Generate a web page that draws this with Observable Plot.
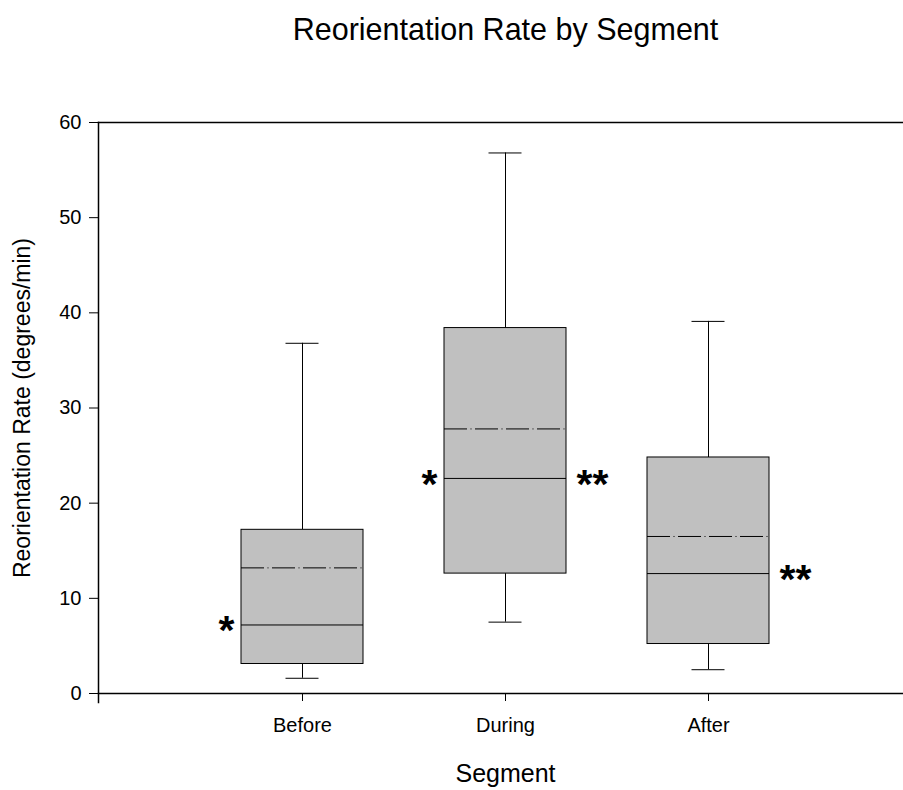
<!DOCTYPE html>
<html>
<head>
<meta charset="utf-8">
<script src="https://cdn.jsdelivr.net/npm/d3@7"></script>
<script src="https://cdn.jsdelivr.net/npm/@observablehq/plot@0.6"></script>
<style>
  html, body { margin: 0; padding: 0; background: #fff; }
  svg { display: block; }
</style>
</head>
<body>
<div id="chart"></div>
<script>
const segments    = ["Before", "During", "After"];
const whiskerLow  = [1.6, 7.5, 2.5];
const q1          = [3.1, 12.6, 5.2];
const median      = [7.2, 22.6, 12.6];
const mean        = [13.2, 27.8, 16.5];
const q3          = [17.2, 38.4, 24.8];
const whiskerHigh = [36.8, 56.8, 39.1];
const leftMarks   = ["*", "*", ""];
const rightMarks  = ["", "**", "**"];
const yTicks      = [0, 10, 20, 30, 40, 50, 60];

const titleText = "Reorientation Rate by Segment";
const xLabel = "Segment";
const yLabel = "Reorientation Rate (degrees/min)";

const rows = segments.map((s, i) => ({
  segment: s, lo: whiskerLow[i], q1: q1[i], median: median[i],
  mean: mean[i], q3: q3[i], hi: whiskerHigh[i],
  left: leftMarks[i], right: rightMarks[i]
}));

const font = "'Liberation Sans', Arial, sans-serif";

const chart = Plot.plot({
  width: 903,
  height: 790,
  marginTop: 122,
  marginBottom: 97,
  marginLeft: 98,
  marginRight: 0,
  style: { fontFamily: font, fontSize: "20px", color: "#000", background: "#fff" },
  x: { type: "band", domain: segments, range: [200.4, 809.4], paddingInner: 0.4, paddingOuter: 0.2, label: null },
  y: { domain: [0, 60], label: null },
  marks: [
    // whiskers
    Plot.ruleX(rows, { x: "segment", y1: "q3", y2: "hi", stroke: "#000", strokeWidth: 1 }),
    Plot.ruleX(rows, { x: "segment", y1: "lo", y2: "q1", stroke: "#000", strokeWidth: 1 }),
    Plot.tickY(rows, { x: "segment", y: "hi", stroke: "#000", strokeWidth: 1, inset: 44.5 }),
    Plot.tickY(rows, { x: "segment", y: "lo", stroke: "#000", strokeWidth: 1, inset: 44.5 }),
    // boxes
    Plot.barY(rows, { x: "segment", y1: "q1", y2: "q3", fill: "#c0c0c0", stroke: "#000", strokeWidth: 1 }),
    // median
    Plot.tickY(rows, { x: "segment", y: "median", stroke: "#000", strokeWidth: 1 }),
    // mean (dashed)
    Plot.tickY(rows, { x: "segment", y: "mean", stroke: "#000", strokeWidth: 1, strokeDasharray: "23,3.5,1,3.5" }),
    // significance markers
    Plot.text(rows, { x: "segment", y: "median", text: "left", dx: -76, dy: 6, fontSize: 41, fontWeight: "bold", fill: "#000" }),
    Plot.text(rows, { x: "segment", y: "median", text: "right", dx: 87, dy: 6, fontSize: 41, fontWeight: "bold", fill: "#000" }),
    // frame lines
    Plot.frame({ anchor: "top", stroke: "#000", strokeWidth: 1.5 }),
    Plot.frame({ anchor: "bottom", stroke: "#000", strokeWidth: 1.5 }),
    Plot.frame({ anchor: "left", stroke: "#000", strokeWidth: 1.5, insetBottom: -9 }),
    // axes
    Plot.axisY({ ticks: yTicks, tickSize: 9, tickPadding: 8, tickFormat: d => String(d), label: null, fontSize: 20 }),
    Plot.axisX({ tickSize: 8, tickPadding: 16, label: null, fontSize: 20 }),
    // titles
    Plot.text([titleText], { frameAnchor: "top", lineAnchor: "middle", textAnchor: "middle", dx: 4.5, dy: -92, fontSize: 30.5, fill: "#000" }),
    Plot.text([xLabel], { frameAnchor: "bottom", lineAnchor: "middle", textAnchor: "middle", dx: 4.5, dy: 80, fontSize: 25, fill: "#000" }),
    Plot.text([yLabel], { frameAnchor: "left", lineAnchor: "middle", textAnchor: "middle", dx: -76, rotate: -90, fontSize: 23, fill: "#000" })
  ]
});

document.getElementById("chart").appendChild(chart);
</script>
</body>
</html>
